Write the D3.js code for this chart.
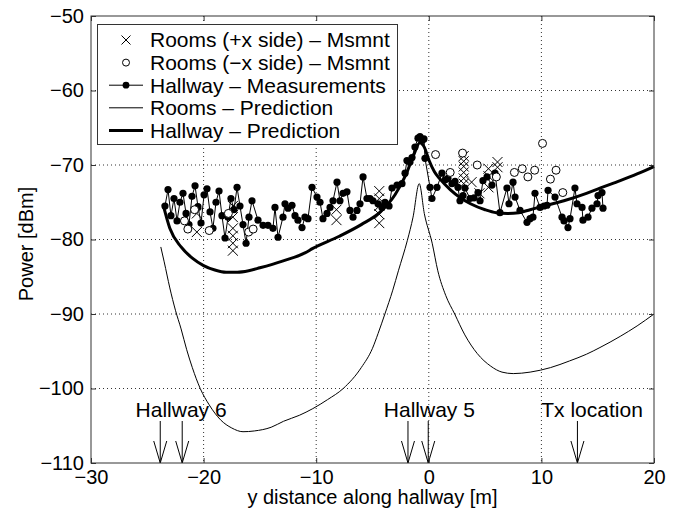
<!DOCTYPE html>
<html><head><meta charset="utf-8">
<script src="https://cdn.jsdelivr.net/npm/d3@7"></script>
<style>body{margin:0;background:#fff}svg{display:block}text{font-family:"Liberation Sans",Arial,Helvetica,sans-serif}</style>
</head><body>
<svg id="c" width="674" height="508"></svg>
<script>
// ---------- DATA ----------
const xTicks = [-30,-20,-10,0,10,20];
const yTicks = [-110,-100,-90,-80,-70,-60,-50];
const legendLabels = ["Rooms (+x side) \u2013 Msmnt","Rooms (\u2212x side) \u2013 Msmnt","Hallway \u2013 Measurements","Rooms \u2013 Prediction","Hallway \u2013 Prediction"];

// Hallway measurements [y distance (m), power (dBm)]
const hallMeas = [
[-23.43,-75.5],[-23.16,-73.3],[-22.90,-76.8],[-22.63,-74.5],[-22.36,-77.5],[-22.10,-75.0],[-21.83,-73.8],[-21.56,-76.5],
[-21.30,-78.0],[-21.03,-74.2],[-20.76,-72.8],[-20.50,-75.6],[-20.23,-77.8],[-19.96,-74.0],[-19.70,-73.2],[-19.43,-76.3],
[-19.17,-78.5],[-18.90,-75.0],[-18.63,-73.5],[-18.37,-76.8],[-18.10,-79.8],[-17.83,-77.0],[-17.57,-74.5],[-17.30,-76.0],
[-17.03,-73.0],[-16.77,-75.5],[-16.50,-78.0],[-16.23,-80.5],[-15.97,-77.0],[-15.70,-74.8],[-15.17,-77.4],[-14.72,-78.1],
[-14.28,-78.1],[-13.84,-78.5],[-13.66,-75.7],[-13.39,-79.7],[-12.95,-77.0],[-12.77,-75.2],[-12.50,-75.8],[-12.15,-75.4],
[-11.88,-76.8],[-11.62,-77.4],[-11.26,-78.4],[-11.00,-77.0],[-10.73,-77.2],[-10.37,-73.0],[-9.93,-74.3],[-9.66,-75.0],
[-9.40,-77.2],[-9.04,-76.5],[-8.77,-75.7],[-8.51,-74.8],[-8.15,-72.3],[-7.89,-74.8],[-7.62,-73.8],[-7.27,-73.6],
[-7.00,-76.1],[-6.73,-77.0],[-6.38,-76.1],[-6.11,-75.2],[-5.84,-71.6],[-5.49,-74.5],[-5.22,-74.5],[-4.96,-74.8],
[-4.51,-75.2],[-4.16,-75.7],[-3.89,-75.0],[-3.53,-75.5],[-3.27,-73.1],[-2.82,-72.7],[-2.38,-72.5],[-2.11,-71.1],
[-1.94,-69.4],[-1.67,-69.6],[-1.49,-69.0],[-1.23,-67.6],[-0.96,-66.4],[-0.78,-66.2],[-0.60,-66.7],[-0.43,-66.5],
[-0.34,-69.1],[0.11,-73.0],[0.28,-74.5],[0.73,-73.0],[1.17,-71.1],[1.44,-72.0],[1.70,-71.8],[2.06,-72.5],
[2.33,-72.2],[2.59,-73.0],[2.77,-74.8],[3.04,-74.1],[3.21,-73.1],[3.66,-74.5],[4.02,-74.4],[4.37,-73.7],
[4.55,-74.8],[4.81,-72.1],[5.17,-71.6],[5.61,-72.7],[5.88,-71.1],[6.32,-76.4],[6.94,-73.1],[7.12,-75.2],
[7.48,-72.3],[7.66,-74.3],[8.10,-76.1],[8.72,-77.7],[8.99,-77.2],[9.25,-77.0],[9.43,-73.8],[9.88,-75.7],
[10.23,-75.5],[10.50,-75.4],[10.59,-73.4],[11.21,-74.3],[11.83,-77.0],[12.01,-77.5],[12.36,-78.4],[12.54,-77.2],
[12.98,-73.1],[13.16,-75.2],[13.61,-75.7],[13.69,-77.4],[14.14,-77.0],[14.49,-75.8],[14.94,-75.2],[15.03,-74.1],
[15.38,-73.7],[15.47,-75.8]
];

// Rooms (+x side) measurements
const roomsPlus = [
[-20.6,-79.0],[-20.6,-76.5],[-17.4,-75.5],[-17.4,-77.0],[-17.4,-78.5],[-17.4,-79.5],[-17.4,-80.5],[-17.4,-81.5],
[-8.2,-76.0],[-8.2,-77.4],[-4.4,-73.5],[-4.4,-74.5],[-4.4,-75.5],[-4.4,-76.6],[-4.4,-77.8],
[3.1,-68.8],[3.1,-69.5],[3.1,-70.2],[3.1,-71.0],[3.1,-71.8],[3.1,-72.5],[3.8,-72.3],[4.5,-73.8],
[5.3,-70.5],[5.3,-71.5],[5.3,-73.0],[6.1,-69.6],[6.1,-70.3]
];

// Rooms (-x side) measurements
const roomsMinus = [
[-21.7,-77.5],[-21.4,-78.6],[-20.8,-76.0],[-19.5,-78.8],[-17.8,-76.5],[-16.0,-79.0],[-15.6,-78.6],
[0.6,-68.6],[1.9,-71.0],[3.0,-68.4],[4.3,-70.0],[6.0,-71.6],[7.6,-71.0],[8.3,-70.5],[8.8,-71.6],
[9.4,-70.7],[10.1,-67.1],[10.8,-71.9],[11.3,-70.7],[11.9,-73.7]
];

// Rooms prediction
const roomsPred = [
[-23.8,-81.0],[-23.5,-83.0],[-23.0,-86.5],[-22.5,-89.5],[-22.0,-92.0],[-21.5,-94.8],[-21.0,-97.2],[-20.3,-100.0],
[-19.5,-102.2],[-18.5,-104.2],[-17.5,-105.3],[-16.5,-105.8],[-15.5,-105.7],[-14.0,-105.2],[-12.9,-104.4],[-11.5,-103.6],
[-10.3,-102.7],[-9.0,-101.5],[-7.6,-100.0],[-6.0,-97.2],[-5.0,-94.6],[-4.5,-92.6],[-3.9,-90.0],[-3.2,-86.8],
[-2.7,-84.2],[-1.9,-80.1],[-1.4,-77.0],[-0.85,-72.5],[-0.4,-76.5],[0.3,-80.5],[0.8,-84.2],[1.5,-87.5],
[2.3,-90.0],[3.2,-92.8],[4.3,-95.3],[5.5,-97.0],[6.5,-97.8],[7.5,-98.0],[9.0,-97.8],[10.8,-97.2],
[12.5,-96.3],[14.0,-95.4],[15.2,-94.5],[17.0,-93.0],[18.5,-91.6],[20.0,-90.0]
];

// Hallway prediction
const hallPred = [
[-23.6,-75.3],[-23.0,-78.5],[-22.0,-81.0],[-21.0,-82.5],[-20.0,-83.5],[-19.0,-84.1],[-18.0,-84.4],[-17.0,-84.4],
[-16.0,-84.2],[-15.0,-83.8],[-13.0,-82.9],[-11.0,-81.8],[-10.3,-81.2],[-8.0,-79.6],[-6.0,-78.0],[-4.3,-76.3],
[-3.0,-74.0],[-2.0,-71.2],[-1.3,-68.5],[-0.8,-67.0],[-0.4,-67.6],[0.0,-69.3],[0.5,-70.9],[1.0,-71.9],
[1.9,-73.3],[2.8,-74.4],[3.7,-75.2],[5.0,-76.0],[6.0,-76.4],[7.0,-76.5],[8.0,-76.4],[9.0,-76.0],
[10.0,-75.6],[12.0,-74.8],[14.0,-73.8],[15.2,-73.1],[17.0,-72.1],[18.5,-71.2],[20.0,-70.2]
];

// Annotations
const annoLabels = [{text:"Hallway 6", x:-22.0},{text:"Hallway 5", x:0.05},{text:"Tx location", x:14.5}];
const arrowX = [-23.85,-21.9,-1.85,-0.05,13.2];

// ---------- CHART ----------
const svg = d3.select("#c");
const L=91, R=654, T=16, B=463;
const x = d3.scaleLinear([-30,20],[L,R]);
const y = d3.scaleLinear([-110,-50],[B,T]);
const FS = 20, FL = 21;

// grid
const g = svg.append("g");
g.selectAll(".gx").data(xTicks.filter(d=>d>-30&&d<20)).join("line")
 .attr("x1",d=>x(d)).attr("x2",d=>x(d)).attr("y1",T).attr("y2",B)
 .attr("stroke","#333").attr("stroke-width",1).attr("stroke-dasharray","1,3");
g.selectAll(".gy").data(yTicks.filter(d=>d>-110&&d<-50)).join("line")
 .attr("y1",d=>y(d)).attr("y2",d=>y(d)).attr("x1",L).attr("x2",R)
 .attr("stroke","#333").attr("stroke-width",1).attr("stroke-dasharray","1,3");

// predictions
const line = d3.line().x(d=>x(d[0])).y(d=>y(d[1])).curve(d3.curveMonotoneX);
svg.append("path").attr("d",line(roomsPred)).attr("fill","none").attr("stroke","#000").attr("stroke-width",1);
svg.append("path").attr("d",line(hallPred)).attr("fill","none").attr("stroke","#000").attr("stroke-width",3);

// hallway measurements
const lin = d3.line().x(d=>x(d[0])).y(d=>y(d[1]));
svg.append("path").attr("d",lin(hallMeas)).attr("fill","none").attr("stroke","#000").attr("stroke-width",1);
svg.selectAll(".hm").data(hallMeas).join("circle")
 .attr("cx",d=>x(d[0])).attr("cy",d=>y(d[1])).attr("r",3.6).attr("fill","#000");

// rooms +x crosses
const cr = 5;
svg.selectAll(".rp").data(roomsPlus).join("path")
 .attr("d",d=>{const cx=x(d[0]),cy=y(d[1]);return `M${cx-cr},${cy-cr}L${cx+cr},${cy+cr}M${cx-cr},${cy+cr}L${cx+cr},${cy-cr}`;})
 .attr("stroke","#000").attr("stroke-width",1).attr("fill","none");
// rooms -x circles
svg.selectAll(".rm").data(roomsMinus).join("circle")
 .attr("cx",d=>x(d[0])).attr("cy",d=>y(d[1])).attr("r",4).attr("fill","#fff").attr("stroke","#000").attr("stroke-width",1);

// annotations
svg.selectAll(".al").data(annoLabels).join("text")
 .attr("x",d=>x(d.x)).attr("y",417).attr("text-anchor","middle").attr("font-size",FL).text(d=>d.text);
const ag = svg.append("g").attr("stroke","#000").attr("stroke-width",1).attr("fill","none");
arrowX.forEach(a=>{
  const ax=x(a);
  ag.append("path").attr("d",`M${ax},421L${ax},${B}M${ax-6.5},441L${ax},${B}L${ax+6.5},441`);
});

// axes
const ax = svg.append("g").attr("transform",`translate(0,${B})`)
 .call(d3.axisBottom(x).tickValues(xTicks).tickSizeInner(-5).tickSizeOuter(0).tickPadding(7));
const axT = svg.append("g").attr("transform",`translate(0,${T})`)
 .call(d3.axisTop(x).tickValues(xTicks).tickSizeInner(-5).tickSizeOuter(0).tickFormat(""));
const ay = svg.append("g").attr("transform",`translate(${L},0)`)
 .call(d3.axisLeft(y).tickValues(yTicks).tickSizeInner(-5).tickSizeOuter(0).tickPadding(7));
const ayR = svg.append("g").attr("transform",`translate(${R},0)`)
 .call(d3.axisRight(y).tickValues(yTicks).tickSizeInner(-5).tickSizeOuter(0).tickFormat(""));
[ax,axT,ay,ayR].forEach(a=>{
  a.selectAll(".domain").remove();
  a.selectAll("line").attr("stroke","#333");
  a.selectAll("text").attr("font-size",FS).attr("fill","#000").attr("font-family","Liberation Sans, Arial, sans-serif");
});
svg.append("rect").attr("x",L).attr("y",T).attr("width",R-L).attr("height",B-T)
 .attr("fill","none").attr("stroke","#333").attr("stroke-width",1);

// axis labels
svg.append("text").attr("x",(L+R)/2).attr("y",504).attr("text-anchor","middle").attr("font-size",FS)
 .text("y distance along hallway [m]");
svg.append("text").attr("transform","translate(33,244) rotate(-90)").attr("text-anchor","middle").attr("font-size",FS)
 .text("Power [dBm]");

// legend
const lg = svg.append("g");
lg.append("rect").attr("x",97.5).attr("y",24.5).attr("width",300).attr("height",120)
 .attr("fill","#fff").attr("stroke","#333").attr("stroke-width",1);
const rowY = i=>40+i*22.6;
const sx0=109, sx1=143, sxc=126;
legendLabels.forEach((t,i)=>{
  const cy=rowY(i);
  lg.append("text").attr("x",150).attr("y",cy).attr("dy","0.35em").attr("font-size",FL).text(t);
  if(i===0){
    const c=4.5;
    lg.append("path").attr("d",`M${sxc-c},${cy-c}L${sxc+c},${cy+c}M${sxc-c},${cy+c}L${sxc+c},${cy-c}`).attr("stroke","#000");
  } else if(i===1){
    lg.append("circle").attr("cx",sxc).attr("cy",cy).attr("r",3.5).attr("fill","#fff").attr("stroke","#000");
  } else if(i===2){
    lg.append("line").attr("x1",sx0).attr("x2",sx1).attr("y1",cy).attr("y2",cy).attr("stroke","#000");
    lg.append("circle").attr("cx",sxc).attr("cy",cy).attr("r",3.4).attr("fill","#000");
  } else {
    lg.append("line").attr("x1",sx0).attr("x2",sx1).attr("y1",cy).attr("y2",cy).attr("stroke","#000").attr("stroke-width",i===3?1:3);
  }
});
</script>
</body></html>
